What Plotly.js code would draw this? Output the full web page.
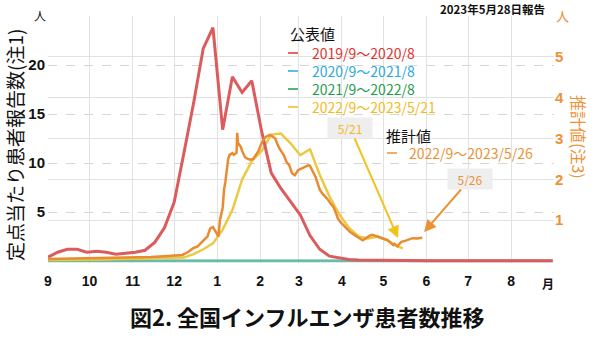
<!DOCTYPE html>
<html>
<head>
<meta charset="utf-8">
<script src="https://cdn.plot.ly/plotly-3.0.1.min.js"></script>
<style>html,body{margin:0;padding:0;background:#fff;}#chart{width:600px;height:337px;}</style>
</head>
<body>
<div id="chart"></div>
<script>
// x = days since Sep 1 of each season
const monthTickDays = [0, 30, 61, 91, 122, 153, 181, 212, 242, 273, 303, 334, 365];
const monthLabels = ['9', '10', '11', '12', '1', '2', '3', '4', '5', '6', '7', '8', ''];

// 2019/9~2020/8 (weekly, per sentinel)
const red_days = [0,7,14,21,28,35,42,49,56,63,70,77,84,91,98,105,112,119,126,133,140,147,154,161,168,175,182,189,196,203,210,217,224,231,238,245,252,259,266,273,280,287,294,301,308,315,322,329,336,343,350,357,364];
const red_vals = [0.4,0.9,1.2,1.2,0.9,1.0,0.9,0.7,0.8,0.9,1.1,1.9,3.4,6.0,11.0,16.1,21.7,23.8,13.4,18.8,17.2,18.4,13.3,9.0,7.4,6.0,4.7,2.6,1.2,0.5,0.3,0.15,0.1,0.08,0.06,0.05,0.04,0.04,0.03,0.03,0.03,0.02,0.02,0.02,0.02,0.02,0.02,0.02,0.02,0.02,0.02,0.02,0.02];

// 2020/9~2021/8
const cyan_days = [0,28,56,84,112,140,168,196,224,252,280,308,336,364];
const cyan_vals = [0.01,0.01,0.01,0.01,0.01,0.01,0.01,0.01,0.01,0.01,0.01,0.01,0.01,0.01];

// 2021/9~2022/8
const green_days = [0,28,56,84,112,140,168,196,224,252,280,308,336,364];
const green_vals = [0.02,0.02,0.02,0.02,0.02,0.02,0.02,0.02,0.02,0.02,0.02,0.02,0.02,0.02];

// 2022/9~2023/5/21 (weekly)
const yellow_days = [0,7,14,21,28,35,42,49,56,63,70,77,84,91,98,105,112,119,126,133,140,147,154,161,168,175,182,189,196,203,210,217,224,231,238,245,252,256];
const yellow_vals = [0.1,0.1,0.1,0.1,0.1,0.15,0.15,0.2,0.2,0.2,0.25,0.3,0.3,0.3,0.35,0.7,1.2,1.8,3.2,5.2,8.3,10.2,11.2,12.9,13.0,12.0,10.8,11.4,8.8,6.6,4.8,3.4,2.5,2.3,2.5,2.1,1.5,1.3];

// 推計値 2022/9~2023/5/26 (right axis)
const orange_days = [0,16,30,45,61,74,84,92,97,101,105,108,110,112,115,117,119,120,123,124,126,127,128,130,131,133,134,136,136.5,137,139,140,142,144,146,148,149,152,153,155,157,159,160,162,164,165,166,167,170,171,172,174,175,176,178,180,180.5,182,184,185,188,189,191,193,195,196,198,201,202,204,206,208,209,211,213,215,218,221,224,227,229,232,234,237,240,242,245,247,249,250,252,254,255,258,259,261,263,266,270];
const orange_vals = [0.05,0.06,0.06,0.07,0.08,0.1,0.12,0.13,0.15,0.22,0.32,0.36,0.42,0.5,0.6,0.8,0.83,0.78,0.6,1.0,1.3,1.75,1.95,2.5,2.6,2.64,2.6,2.65,3.14,2.9,2.8,2.7,2.55,2.5,2.48,2.5,2.55,2.7,2.8,2.95,3.04,3.08,3.09,3.05,3.0,2.9,2.8,2.75,2.6,2.5,2.43,2.35,2.23,2.15,2.1,2.2,2.23,2.25,2.28,2.3,2.35,2.33,2.18,2.06,1.85,1.75,1.65,1.55,1.5,1.4,1.32,1.15,1.05,0.95,0.88,0.8,0.71,0.64,0.58,0.51,0.55,0.62,0.64,0.6,0.57,0.55,0.51,0.45,0.39,0.42,0.36,0.44,0.47,0.5,0.51,0.53,0.56,0.55,0.57];

const legendItems = [
  {label: '2019/9～2020/8', color: '#e5322d'},
  {label: '2020/9～2021/8', color: '#2ea7de'},
  {label: '2021/9～2022/8', color: '#1f9d4c'},
  {label: '2022/9～2023/5/21', color: '#f2bb1c'}
];
const estLabel = '2022/9～2023/5/26';

const ORANGE = '#ec9236';
const CJK = 'Noto Sans CJK JP';
const NUM = 'Liberation Sans, Arial, sans-serif';

// plot area in pixels
const PL = 48, PR = 554, PT = 16, PB = 263;
const px = v => (v - PL) / (PR - PL);
const py = v => (PB - v) / (PB - PT);

const traces = [
  {x: cyan_days, y: cyan_vals, mode: 'lines', line: {color: '#5cb9d2', width: 2.5}, hoverinfo: 'skip'},
  {x: green_days, y: green_vals, mode: 'lines', line: {color: '#6dbba0', width: 2.5}, hoverinfo: 'skip'},
  {x: yellow_days, y: yellow_vals, mode: 'lines', line: {color: '#ebc944', width: 2.5}, hoverinfo: 'skip'},
  {x: orange_days, y: orange_vals, yaxis: 'y2', mode: 'lines', line: {color: '#e98b30', width: 2.5}, hoverinfo: 'skip'},
  {x: red_days, y: red_vals, mode: 'lines', line: {color: '#dc5b5d', width: 3}, hoverinfo: 'skip'}
];

const annotations = [];
const shapes = [];

function txt(text, x, y, opts) {
  annotations.push(Object.assign({
    text: text, xref: 'paper', yref: 'paper', x: px(x), y: py(y),
    showarrow: false, xanchor: 'left', yanchor: 'middle',
    font: {family: CJK, size: 14, color: '#111'}
  }, opts || {}));
}

txt('公表値', 288, 33, {font: {family: CJK, size: 15, color: '#111'}});
legendItems.forEach((it, i) => {
  const yy = 53 + i * 18;
  shapes.push({type: 'line', xref: 'paper', yref: 'paper', x0: px(288), x1: px(298), y0: py(yy), y1: py(yy), line: {color: it.color, width: 1.5}});
  txt(it.label, 310, yy, {font: {family: CJK, size: 14, color: it.color}});
});
txt('推計値', 384, 135, {font: {family: CJK, size: 15, color: '#111'}});
shapes.push({type: 'line', xref: 'paper', yref: 'paper', x0: px(387), x1: px(397), y0: py(153), y1: py(153), line: {color: ORANGE, width: 1.5}});
txt(estLabel, 407, 153, {font: {family: CJK, size: 14, color: ORANGE}});

txt('<b>2023年5月28日報告</b>', 492, 9, {xanchor: 'center', font: {family: CJK, size: 11.5, color: '#111'}});
txt('人', 40, 15, {xanchor: 'center', font: {family: CJK, size: 12, color: '#111'}});
txt('人', 562, 15, {xanchor: 'center', font: {family: CJK, size: 13, color: ORANGE}});
txt('<b>月</b>', 548, 283, {xanchor: 'center', font: {family: CJK, size: 12, color: '#111'}});
txt('<b>図2. 全国インフルエンザ患者数推移</b>', 307, 316, {xanchor: 'center', font: {family: CJK, size: 22, color: '#111'}});
txt('定点当たり患者報告数(注1)', 15, 145, {xanchor: 'center', textangle: -90, font: {family: CJK, size: 19, color: '#111'}});
txt('推計値(注3)', 579, 137, {xanchor: 'center', textangle: 90, font: {family: CJK, size: 16, color: ORANGE}});

// arrows with date labels
annotations.push({
  text: '5/21', x: 252.5, y: 2.35, xref: 'x', yref: 'y', showarrow: true,
  axref: 'pixel', ayref: 'pixel', ax: -48, ay: -110,
  width: 38, height: 14, arrowhead: 2, arrowsize: 1.2, arrowwidth: 2, arrowcolor: '#f2c21f',
  bgcolor: '#eeeeee', borderpad: 3, font: {family: CJK, size: 12, color: '#f0b724'}
});
annotations.push({
  text: '5/26', x: 271.3, y: 2.96, xref: 'x', yref: 'y', showarrow: true,
  axref: 'pixel', ayref: 'pixel', ax: 46, ay: -53,
  width: 38, height: 14, arrowhead: 2, arrowsize: 1.2, arrowwidth: 2, arrowcolor: ORANGE,
  bgcolor: '#eeeeee', borderpad: 3, font: {family: CJK, size: 12, color: ORANGE}
});

const layout = {
  width: 600, height: 337,
  margin: {l: PL, r: 600 - PR, t: PT, b: 337 - PB},
  paper_bgcolor: '#fff', plot_bgcolor: '#fff',
  showlegend: false,
  xaxis: {
    range: [0, 365], tickmode: 'array', tickvals: monthTickDays, ticktext: monthLabels,
    showgrid: true, gridcolor: '#e2e2e2', gridwidth: 1, zeroline: false, showline: false,
    ticks: '', tickfont: {family: NUM, size: 14, color: '#111', weight: 'bold'}, ticklabelstandoff: 8
  },
  yaxis: {
    range: [-0.2, 25], tickmode: 'array', tickvals: [5, 10, 15, 20],
    showgrid: true, gridcolor: '#d6d6d6', griddash: 'dash', gridwidth: 1, zeroline: false, showline: false,
    ticks: '', tickfont: {family: NUM, size: 15, color: '#111', weight: 'bold'}, ticklabelstandoff: 2
  },
  yaxis2: {
    overlaying: 'y', side: 'right', range: [-0.048, 6], tickmode: 'array',
    tickvals: [1, 2, 3, 4, 5, 6], ticktext: ['1', '2', '3', '4', '5', ''],
    showgrid: true, gridcolor: '#e2e2e2', gridwidth: 1, zeroline: false, showline: false,
    ticks: '', tickfont: {family: NUM, size: 15, color: ORANGE, weight: 'bold'}, ticklabelstandoff: 0
  },
  annotations: annotations,
  shapes: shapes
};

Plotly.newPlot('chart', traces, layout, {staticPlot: true, displayModeBar: false});
</script>
</body>
</html>
